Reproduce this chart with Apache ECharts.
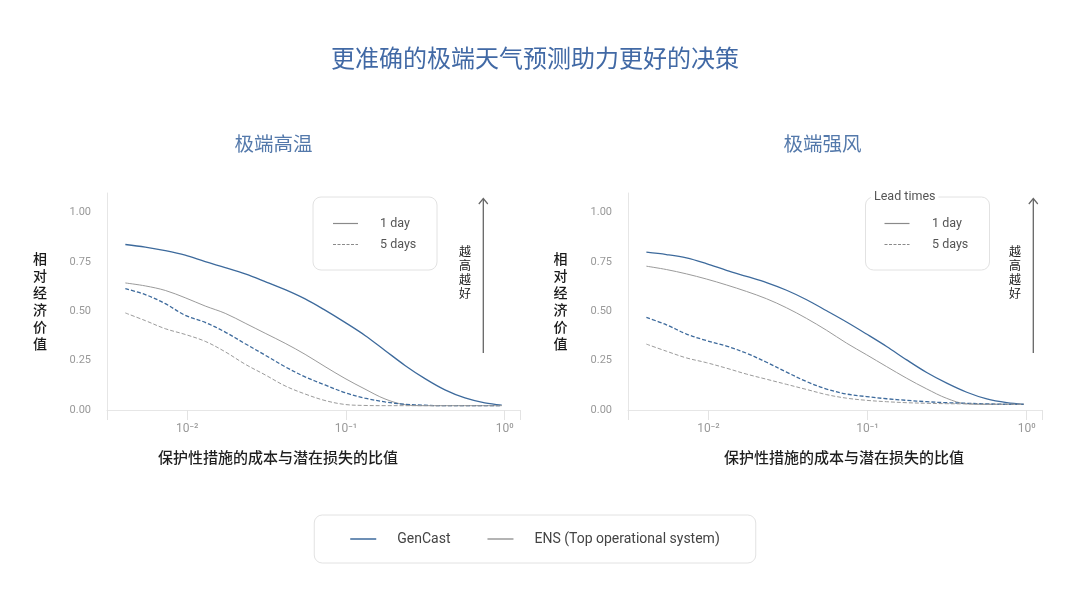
<!DOCTYPE html>
<html>
<head>
<meta charset="utf-8">
<title>更准确的极端天气预测助力更好的决策</title>
<script src="https://cdn.jsdelivr.net/npm/echarts@6/dist/echarts.min.js"></script>
<style>
html, body { margin: 0; padding: 0; background: #fff; }
#main { width: 1070px; height: 601px; }
</style>
</head>
<body>
<div id="main"></div>
<script>
/* 数据: 横轴为保护性措施的成本与潜在损失的比值 (两图共用) */
var costLossRatio = [0.00407, 0.00544, 0.00727, 0.0097, 0.01297, 0.01734, 0.02317, 0.03097, 0.0414, 0.0553,
    0.0738, 0.0986, 0.1318, 0.1762, 0.2355, 0.3148, 0.4207, 0.5623, 0.75, 0.959];

// 极端高温
var heatGenCast1d = [0.839, 0.826, 0.808, 0.785, 0.752, 0.722, 0.690, 0.651, 0.610, 0.563,
    0.506, 0.444, 0.378, 0.302, 0.226, 0.159, 0.102, 0.061, 0.036, 0.025];
var heatGenCast5d = [0.615, 0.585, 0.539, 0.480, 0.444, 0.395, 0.336, 0.278, 0.219, 0.168,
    0.127, 0.088, 0.060, 0.041, 0.029, 0.024, 0.022, 0.022, 0.022, 0.022];
var heatEns1d = [0.644, 0.629, 0.606, 0.569, 0.527, 0.490, 0.440, 0.389, 0.338, 0.282,
    0.220, 0.160, 0.106, 0.056, 0.027, 0.022, 0.022, 0.022, 0.022, 0.022];
var heatEns5d = [0.492, 0.453, 0.412, 0.383, 0.348, 0.295, 0.232, 0.178, 0.122, 0.081,
    0.048, 0.028, 0.023, 0.022, 0.022, 0.022, 0.022, 0.022, 0.022, 0.022];

// 极端强风
var windGenCast1d = [0.800, 0.788, 0.771, 0.742, 0.708, 0.677, 0.646, 0.607, 0.559, 0.503,
    0.446, 0.385, 0.322, 0.254, 0.190, 0.136, 0.090, 0.056, 0.037, 0.029];
var windGenCast5d = [0.469, 0.432, 0.385, 0.352, 0.324, 0.288, 0.242, 0.192, 0.144, 0.106,
    0.081, 0.068, 0.057, 0.049, 0.042, 0.037, 0.034, 0.031, 0.029, 0.029];
var windEns1d = [0.729, 0.712, 0.690, 0.664, 0.634, 0.601, 0.564, 0.518, 0.464, 0.404,
    0.339, 0.280, 0.220, 0.161, 0.107, 0.059, 0.031, 0.029, 0.029, 0.029];
var windEns5d = [0.334, 0.298, 0.264, 0.240, 0.212, 0.182, 0.156, 0.130, 0.104, 0.078,
    0.060, 0.049, 0.042, 0.037, 0.034, 0.032, 0.031, 0.029, 0.029, 0.029];

// 刻度
var xTickLabels = { '-2': '10⁻²', '-1': '10⁻¹', '0': '10⁰' };
var yTickValues = [0, 0.25, 0.5, 0.75, 1];
var leadTimes = ['1 day', '5 days'];
var modelNames = ['GenCast', 'ENS (Top operational system)'];

var myChart = echarts.init(document.getElementById('main'));

var blue = '#3d6a9c';
var grey = '#9b9b9b';
var cjk = '"Noto Sans CJK SC", sans-serif';
var latin = 'Roboto, "Noto Sans", sans-serif';

/* 折线 */
function makeSeries(name, values, idx, color, width, dashed) {
    return {
        name: name,
        type: 'line',
        xAxisIndex: idx,
        yAxisIndex: idx,
        data: values.map(function (v, i) {
            return [costLossRatio[i], v];
        }),
        symbol: 'none',
        showSymbol: false,
        smooth: 0.35,
        silent: true,
        lineStyle: {
            color: color,
            width: width,
            type: dashed ? [4, 2] : 'solid'
        },
        itemStyle: { color: color }
    };
}

/* 横轴: 对数 */
function makeXAxis(idx) {
    return {
        type: 'log',
        logBase: 10,
        gridIndex: idx,
        min: 0.003119,
        max: 1.25,
        axisLine: { lineStyle: { color: '#e6e6e6' } },
        axisTick: { show: true, length: 10, lineStyle: { color: '#e3e3e3' } },
        splitLine: { show: false },
        axisLabel: {
            margin: 13,
            color: '#999',
            fontSize: 12,
            fontFamily: latin,
            formatter: function (val) {
                var p = Math.log10(val);
                if (Math.abs(p - Math.round(p)) > 1e-6) return '';
                return xTickLabels[String(Math.round(p))] || '';
            }
        }
    };
}

/* 纵轴 */
function makeYAxis(idx) {
    return {
        type: 'value',
        gridIndex: idx,
        min: 0,
        max: 1.1,
        interval: 0.25,
        axisLine: { show: true, lineStyle: { color: '#e6e6e6' } },
        axisTick: { show: false },
        splitLine: { show: false },
        axisLabel: {
            margin: 16,
            color: '#999',
            fontSize: 11,
            fontFamily: latin,
            showMaxLabel: false,
            formatter: function (val) {
                for (var i = 0; i < yTickValues.length; i++) {
                    if (Math.abs(yTickValues[i] - val) < 1e-6) return val.toFixed(2);
                }
                return '';
            }
        }
    };
}

/* 文字 (用title来放) */
function textTitle(text, x, y, size, color, opts) {
    opts = opts || {};
    var lines = text.split('\n').length;
    var lh = opts.lineHeight || size;
    return {
        text: text,
        left: x,
        top: y - lines * lh / 2,
        textAlign: opts.align || 'center',
        padding: opts.padding || 0,
        backgroundColor: opts.bg || 'transparent',
        textStyle: {
            fontSize: size,
            color: color,
            fontWeight: opts.weight || 'normal',
            fontFamily: opts.font || cjk,
            lineHeight: lh
        }
    };
}

var titles = [
    textTitle('更准确的极端天气预测助力更好的决策', 535, 58, 24, '#4169a5'),
    textTitle('极端高温', 273.5, 144, 19.5, '#5479ab'),
    textTitle('极端强风', 822.5, 144, 19.5, '#5479ab'),
    textTitle('相\n对\n经\n济\n价\n值', 40, 301, 14, '#1a1a1a', { lineHeight: 17, weight: 500 }),
    textTitle('相\n对\n经\n济\n价\n值', 560.5, 301, 14, '#1a1a1a', { lineHeight: 17, weight: 500 }),
    textTitle('保护性措施的成本与潜在损失的比值', 278, 457, 15, '#1f1f1f', { weight: 500 }),
    textTitle('保护性措施的成本与潜在损失的比值', 844, 457, 15, '#1f1f1f', { weight: 500 }),
    textTitle('越\n高\n越\n好', 465, 272.5, 12, '#222', { lineHeight: 14 }),
    textTitle('越\n高\n越\n好', 1015, 272.5, 12, '#222', { lineHeight: 14 }),
    // 图内图例
    textTitle(leadTimes[0], 380, 223.5, 12.5, '#555', { align: 'left', font: latin }),
    textTitle(leadTimes[1], 380, 244.5, 12.5, '#555', { align: 'left', font: latin }),
    textTitle(leadTimes[0], 932, 223.5, 12.5, '#555', { align: 'left', font: latin }),
    textTitle(leadTimes[1], 932, 244.5, 12.5, '#555', { align: 'left', font: latin }),
    textTitle('Lead times', 871, 197, 12.5, '#555', { align: 'left', font: latin, padding: [0, 3, 0, 3], bg: '#fff' })
];

/* 图内图例框 + 箭头 */
function legendBox(x, lineX) {
    return [
        {
            type: 'rect',
            shape: { x: x, y: 197, width: 124, height: 73, r: 8 },
            style: { fill: '#fff', stroke: '#e2e2e2', lineWidth: 1 },
            silent: true
        },
        {
            type: 'line',
            shape: { x1: lineX, y1: 223.5, x2: lineX + 25, y2: 223.5 },
            style: { stroke: '#8a8a8a', lineWidth: 1.2 },
            silent: true
        },
        {
            type: 'line',
            shape: { x1: lineX, y1: 244.5, x2: lineX + 25, y2: 244.5 },
            style: { stroke: '#8a8a8a', lineWidth: 1.2, lineDash: [3, 1.5] },
            silent: true
        }
    ];
}
function arrow(x) {
    return [
        {
            type: 'line',
            shape: { x1: x, y1: 353, x2: x, y2: 199 },
            style: { stroke: '#666', lineWidth: 1.3 },
            silent: true
        },
        {
            type: 'polyline',
            shape: { points: [[x - 4.5, 204], [x, 198.5], [x + 4.5, 204]] },
            style: { stroke: '#666', lineWidth: 1.2, fill: null },
            silent: true
        }
    ];
}
var graphics = [].concat(legendBox(313, 333), legendBox(865.5, 884.5), arrow(483.3), arrow(1033.3));

var option = {
    animation: false,
    backgroundColor: '#fff',
    title: titles,
    graphic: { elements: graphics },
    legend: {
        data: modelNames,
        left: 'center',
        top: 515,
        icon: 'rect',
        itemWidth: 26,
        itemHeight: 1.5,
        itemGap: 37,
        padding: [17, 36, 17, 36],
        borderColor: '#e2e2e2',
        borderWidth: 1,
        borderRadius: 8,
        selectedMode: false,
        textStyle: {
            color: '#444',
            fontSize: 14,
            fontFamily: latin,
            padding: [0, 0, 0, 16]
        }
    },
    grid: [
        { left: 107, top: 193, width: 413, height: 217 },
        { left: 628, top: 193, width: 414, height: 217 }
    ],
    xAxis: [makeXAxis(0), makeXAxis(1)],
    yAxis: [makeYAxis(0), makeYAxis(1)],
    series: [
        makeSeries(modelNames[0], heatGenCast1d, 0, blue, 1.3, false),
        makeSeries(modelNames[1], heatEns1d, 0, grey, 1, false),
        makeSeries(modelNames[0], heatGenCast5d, 0, blue, 1.3, true),
        makeSeries(modelNames[1], heatEns5d, 0, grey, 1, true),
        makeSeries(modelNames[0], windGenCast1d, 1, blue, 1.3, false),
        makeSeries(modelNames[1], windEns1d, 1, grey, 1, false),
        makeSeries(modelNames[0], windGenCast5d, 1, blue, 1.3, true),
        makeSeries(modelNames[1], windEns5d, 1, grey, 1, true)
    ]
};

myChart.setOption(option);
</script>
</body>
</html>
